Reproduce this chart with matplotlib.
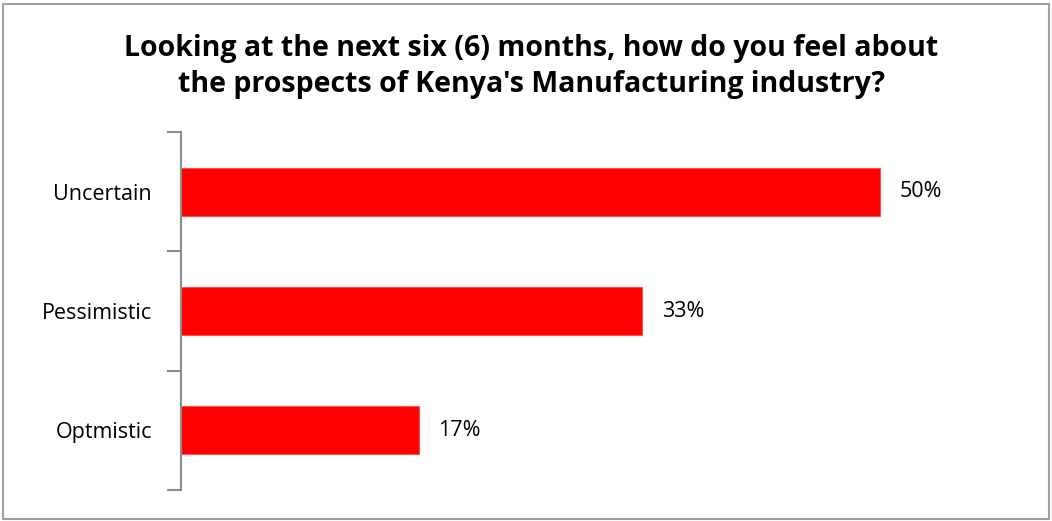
import matplotlib.pyplot as plt
from matplotlib.patches import Rectangle
from matplotlib.ticker import FixedLocator

categories = ['Optmistic', 'Pessimistic', 'Uncertain']
shares = [17, 33, 50]
value_labels = ['17%', '33%', '50%']
title = "Looking at the next six (6) months, how do you feel about\nthe prospects of Kenya's Manufacturing industry?"

plt.rcParams['font.family'] = ['Open Sans', 'DejaVu Sans']

fig = plt.figure(figsize=(10.52, 5.21), dpi=100)
ax = fig.add_axes([0.172, 0.0595, 0.797, 0.687])

pos = list(range(len(categories)))
ax.barh(pos, shares, height=0.4, color='#ff0000', edgecolor='#ff5050', linewidth=0.8)
for y, v, lab in zip(pos, shares, value_labels):
    ax.text(v + 1.4, y, lab, va='center', ha='left', fontsize=15.5, color='black')

ax.set_xlim(0, 60)
ax.set_ylim(-0.5, 2.5)
ax.set_yticks(pos)
ax.set_yticklabels(categories, fontsize=15.5)
ax.yaxis.set_minor_locator(FixedLocator([-0.5, 0.5, 1.5, 2.5]))
ax.tick_params(axis='y', which='major', length=0, pad=21)
ax.tick_params(axis='y', which='minor', length=10, width=1.5, color='#8c8c8c')
ax.set_xticks([])
for s in ['top', 'right', 'bottom']:
    ax.spines[s].set_visible(False)
ax.spines['left'].set_color('#8c8c8c')
ax.spines['left'].set_linewidth(1.5)

fig.text(0.505, 0.935, title, ha='center', va='top', fontsize=20.5,
         fontweight='bold', linespacing=1.32)

# outer chart frame
fig.patches.append(Rectangle((0.003, 0.004), 0.994, 0.988, transform=fig.transFigure,
                             fill=False, edgecolor='#a0a0a0', linewidth=1.5))

fig.savefig('out.png', dpi=100)
